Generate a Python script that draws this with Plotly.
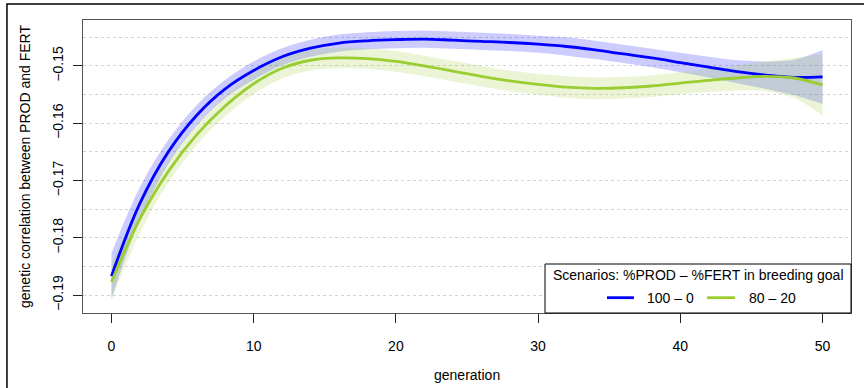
import plotly.graph_objects as go

# generation values
generation = [0, 2, 4, 6, 8, 10, 12, 14, 16, 18, 20, 22, 24, 26,
              28, 30, 32, 34, 36, 38, 40, 42, 44, 46, 48, 50]

# scenario 100 - 0 (fitted curve and CI half-width)
s100_mean = [-0.1867, -0.1740, -0.1650, -0.1586, -0.1540, -0.1508, -0.1484, -0.1469,
             -0.1460, -0.1456, -0.1454, -0.1453, -0.1455, -0.1457, -0.1459, -0.1462,
             -0.1466, -0.1472, -0.1479, -0.1486, -0.1494, -0.1502, -0.1510, -0.1516,
             -0.1520, -0.1519]
s100_hw = [0.0040, 0.0028, 0.0021, 0.0018, 0.0016, 0.0016, 0.0015, 0.0015, 0.0015,
           0.0015, 0.0015, 0.0015, 0.0015, 0.0015, 0.0015, 0.0015, 0.0016, 0.0016,
           0.0016, 0.0016, 0.0017, 0.0018, 0.0020, 0.0024, 0.0031, 0.0047]

# scenario 80 - 20
s80_mean = [-0.1877, -0.1767, -0.1684, -0.1620, -0.1570, -0.1531, -0.1504, -0.1490,
            -0.1486, -0.1487, -0.1492, -0.1500, -0.1509, -0.1518, -0.1526, -0.1532,
            -0.1537, -0.1539, -0.1538, -0.1535, -0.1530, -0.1525, -0.1521, -0.1518,
            -0.1521, -0.1533]
s80_hw = [0.0032, 0.0025, 0.0020, 0.0018, 0.0018, 0.0018, 0.0018, 0.0018, 0.0018,
          0.0018, 0.0018, 0.0018, 0.0018, 0.0018, 0.0018, 0.0018, 0.0019, 0.0019,
          0.0019, 0.0019, 0.0019, 0.0020, 0.0022, 0.0026, 0.0035, 0.0054]

x_ticks = [0, 10, 20, 30, 40, 50]
y_ticks = [-0.19, -0.18, -0.17, -0.16, -0.15]

x_title = "generation"
legend_title = "Scenarios: %PROD \u2013 %FERT in breeding goal"
scenarios = [
    ("100 \u2013 0", s100_mean, s100_hw, "#0000FF", "rgba(0,0,255,0.2)"),
    ("80 \u2013 20", s80_mean, s80_hw, "#9ACD32", "rgba(154,205,50,0.2)"),
]

fig = go.Figure()
for name, mean, hw, col, fillcol in scenarios:
    lower = [m - h for m, h in zip(mean, hw)]
    upper = [m + h for m, h in zip(mean, hw)]
    fig.add_trace(go.Scatter(x=generation, y=lower, mode="lines",
                             line=dict(width=0, shape="spline", color=fillcol),
                             showlegend=False, hoverinfo="skip"))
    fig.add_trace(go.Scatter(x=generation, y=upper, mode="lines", fill="tonexty",
                             fillcolor=fillcol,
                             line=dict(width=0, shape="spline", color=fillcol),
                             showlegend=False, hoverinfo="skip"))
for name, mean, hw, col, fillcol in scenarios:
    fig.add_trace(go.Scatter(x=generation, y=mean, mode="lines", name=name,
                             showlegend=False,
                             line=dict(width=2.8, shape="spline", color=col)))

font = "Liberation Sans, Arial, sans-serif"
fig.update_layout(
    width=864, height=388,
    margin=dict(l=83, r=13, t=20, b=75),
    paper_bgcolor="white", plot_bgcolor="white",
    font=dict(family=font, size=14, color="black"),
    showlegend=False,
    xaxis=dict(
        range=[-2, 52], tickvals=x_ticks, ticks="outside", ticklen=9,
        tickcolor="#222", showline=True, linecolor="#555", mirror=True,
        showgrid=False, zeroline=False, tickfont=dict(size=14),
        ticklabelstandoff=11,
    ),
    yaxis=dict(
        range=[-0.19314, -0.14197], tickvals=y_ticks, tickformat=".2f",
        ticks="outside", ticklen=9, tickcolor="#222", tickangle=-90,
        showline=True, linecolor="#555", mirror=True, zeroline=False,
        showgrid=True, gridcolor="#D3D3D3", griddash="dot", gridwidth=1,
        minor=dict(dtick=0.005, tick0=-0.19, showgrid=True, gridcolor="#D3D3D3",
                   griddash="dot", gridwidth=1, ticks=""),
        tickfont=dict(size=14), ticklabelstandoff=4,
        title=dict(text="genetic correlation between PROD and FERT", standoff=16,
                   font=dict(size=14)),
    ),
)

# x-axis title placed like R's mtext line
fig.add_annotation(xref="paper", yref="paper", x=0.5, y=-0.2116,
                   text=x_title, showarrow=False,
                   xanchor="center", yanchor="middle", font=dict(size=14))

# legend box (bottom-right, drawn like R's legend())
fig.add_shape(type="rect", xref="paper", yref="paper",
              x0=0.6016, x1=1.0, y0=0.0, y1=0.1672,
              line=dict(color="black", width=1), fillcolor="white", layer="above")
fig.add_annotation(xref="paper", yref="paper", x=0.8008, y=0.1297,
                   text=legend_title, showarrow=False,
                   xanchor="center", yanchor="middle", font=dict(size=14))
key_x = [(0.6823, 0.7174, 0.7318), (0.8125, 0.8490, 0.8646)]
for (name, mean, hw, col, fillcol), (lx0, lx1, tx) in zip(scenarios, key_x):
    fig.add_shape(type="line", xref="paper", yref="paper",
                  x0=lx0, x1=lx1, y0=0.0522, y1=0.0522,
                  line=dict(color=col, width=2.8), layer="above")
    fig.add_annotation(xref="paper", yref="paper", x=tx, y=0.0522,
                       text=name, showarrow=False,
                       xanchor="left", yanchor="middle", font=dict(size=14))

# outer figure frame
fig.add_shape(type="rect", xref="paper", yref="paper",
              x0=-0.099, x1=1.2, y0=-0.5, y1=1.0546,
              line=dict(color="black", width=1.5), fillcolor="rgba(0,0,0,0)")

fig.write_html("out.html")
